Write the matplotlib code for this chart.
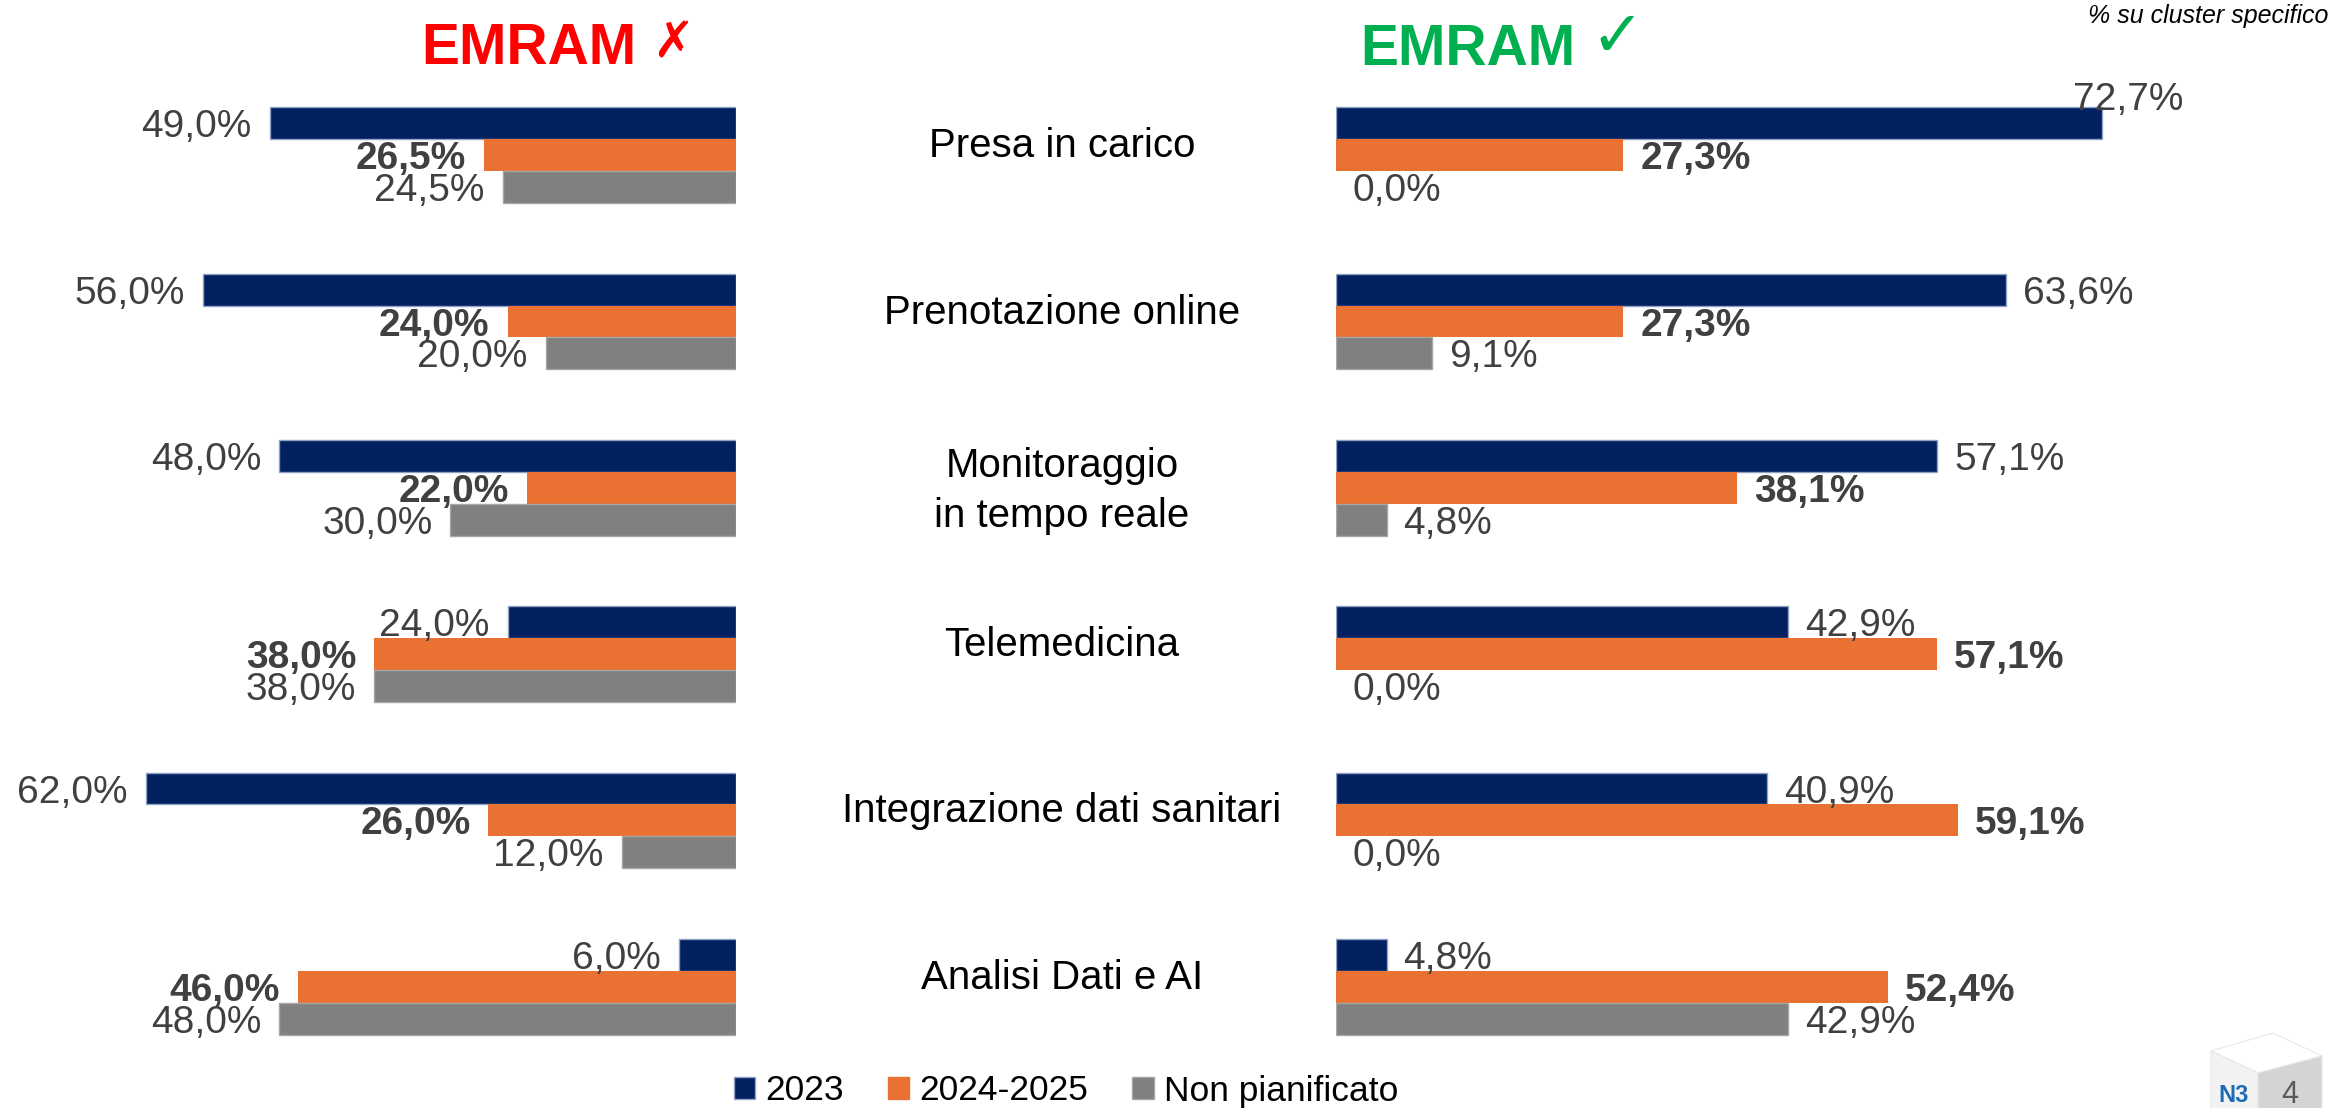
import matplotlib
matplotlib.use('Agg')
import matplotlib.pyplot as plt
from matplotlib.patches import Patch, Polygon
import numpy as np

plt.rcParams['font.family'] = ['Liberation Sans', 'DejaVu Sans']

categories = ['Presa in carico', 'Prenotazione online', 'Monitoraggio\nin tempo reale',
              'Telemedicina', 'Integrazione dati sanitari', 'Analisi Dati e AI']
series = ['2023', '2024-2025', 'Non pianificato']

# EMRAM non adottato (pannello sinistro)
no_2023 = [49.0, 56.0, 48.0, 24.0, 62.0, 6.0]
no_2425 = [26.5, 24.0, 22.0, 38.0, 26.0, 46.0]
no_nonpian = [24.5, 20.0, 30.0, 38.0, 12.0, 48.0]

# EMRAM adottato (pannello destro)
si_2023 = [72.7, 63.6, 57.1, 42.9, 40.9, 4.8]
si_2425 = [27.3, 27.3, 38.1, 57.1, 59.1, 52.4]
si_nonpian = [0.0, 9.1, 4.8, 0.0, 0.0, 42.9]

colors = ['#002060', '#E97132', '#808080']
edges = ['#8FA2C4', '#E97132', '#A6A6A6']
label_color = '#404040'

W, H = 2343, 1108
fig = plt.figure(figsize=(W / 100, H / 100), dpi=100)


def px(x):
    return x / W


def py(y):
    return 1 - y / H


# layout in pixel (dall'alto)
first_center, step = 155.2, 166.3
bar_h = 31.9 / step
ylim = ((H - first_center) / step, -first_center / step)

ax_l = fig.add_axes([0, 0, px(736), 1])
ax_r = fig.add_axes([px(1336), 0, px(W - 1336), 1])
ax_l.set_xlim(736 / 9.52, 0)
ax_r.set_xlim(0, (W - 1336) / 10.53)

y = np.arange(len(categories))
offsets = [-bar_h, 0, bar_h]

# spostamenti particolari delle etichette (pannello, serie, categoria)
nudge = {('r', 0, 0): (-29, 23)}


def fmt(v):
    return f'{v:.1f}'.replace('.', ',') + '%'


for side, ax, data in [('l', ax_l, [no_2023, no_2425, no_nonpian]),
                       ('r', ax_r, [si_2023, si_2425, si_nonpian])]:
    ax.set_ylim(*ylim)
    ax.axis('off')
    for s, vals in enumerate(data):
        lw = [1.0 if (v > 0 and s != 1) else 0 for v in vals]
        ax.barh(y + offsets[s], vals, height=bar_h, color=colors[s],
                edgecolor=edges[s], linewidth=lw)
        for i, v in enumerate(vals):
            dx, dy = (-18, -4) if side == 'l' else (17, -4)
            ha = 'right' if side == 'l' else 'left'
            if (side, s, i) in nudge:
                dx, dy = nudge[(side, s, i)]
            ax.annotate(fmt(v), xy=(v, y[i] + offsets[s]), xytext=(dx, dy),
                        textcoords='offset pixels', ha=ha, va='center',
                        fontsize=28, color=label_color,
                        fontweight='bold' if s == 1 else 'normal',
                        annotation_clip=False)

# etichette delle categorie al centro
for i, cat in enumerate(categories):
    lines = cat.split('\n')
    for k, line in enumerate(lines):
        off = -2 + 13 * (len(lines) - 1) - 50 * k
        ax_l.annotate(line, xy=(px(1062), y[i]), xycoords=('figure fraction', 'data'),
                      xytext=(0, off), textcoords='offset pixels',
                      ha='center', va='baseline', fontsize=29, color='black',
                      annotation_clip=False)

# titoli
fig.text(px(421), py(64), 'EMRAM', color='#FF0000', fontsize=41,
         fontweight='bold', ha='left', va='baseline')
fig.text(px(673), py(44), '\u2717', color='#FF0000', fontsize=36,
         family='DejaVu Sans', ha='center', va='center')
fig.text(px(1617), py(38), '\u2713', color='#00B050', fontsize=46,
         family='DejaVu Sans', ha='center', va='center')
fig.text(px(1360), py(65), 'EMRAM', color='#00B050', fontsize=41,
         fontweight='bold', ha='left', va='baseline')
fig.text(px(2328), py(16), '% su cluster specifico', fontsize=18,
         style='italic', color='black', ha='right', va='center')

# legenda
handles = [Patch(facecolor=colors[k], edgecolor=edges[k], linewidth=1.0)
           for k in range(3)]
fig.legend(handles, series, loc='center', bbox_to_anchor=(px(1066), py(1091)),
           ncol=3, frameon=False, fontsize=25.5, handlelength=0.6,
           handleheight=0.6, handletextpad=0.28, columnspacing=1.25,
           borderpad=0, borderaxespad=0)

# logo con numero di pagina in basso a destra
top = [(2211, 1051), (2273, 1033), (2322, 1056), (2258, 1073)]
left = [(2211, 1051), (2258, 1073), (2258, 1110), (2211, 1110)]
right = [(2258, 1073), (2322, 1056), (2322, 1110), (2258, 1110)]
for pts, fc in [(top, '#FFFFFF'), (left, '#F2F2F2'), (right, '#D3D4D6')]:
    fig.add_artist(Polygon([(px(a), py(b)) for a, b in pts], closed=True,
                           facecolor=fc, edgecolor='#E8E8E8', linewidth=0.8,
                           transform=fig.transFigure))
fig.text(px(2234), py(1102), 'N3', color='#1F6CB5', fontsize=17,
         fontweight='bold', ha='center', va='baseline')
fig.text(px(2290), py(1103), '4', color='#595959', fontsize=22,
         ha='center', va='baseline')

fig.savefig('out.png', dpi=100)
